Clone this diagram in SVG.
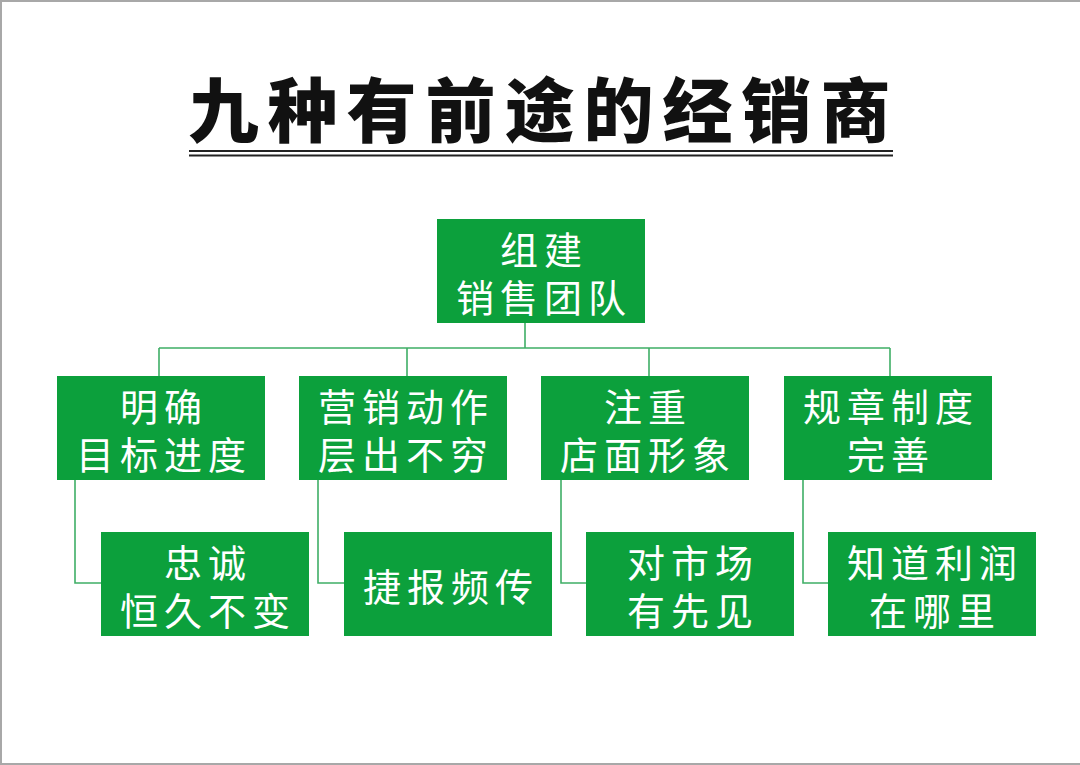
<svg xmlns="http://www.w3.org/2000/svg" width="1080" height="765" viewBox="0 0 1080 765">
<style>
.box{fill:#0ca03c}
.t{fill:#ffffff;font-family:"Noto Sans CJK SC","Noto Sans",sans-serif;font-size:38px;letter-spacing:6px;text-anchor:middle}
.c{fill:none;stroke:#3fae66;stroke-width:1.6}
.title{fill:#111;font-family:"Noto Sans CJK SC",sans-serif;font-weight:900;font-size:70px;letter-spacing:9px;text-anchor:middle}
</style>
<rect x="0" y="0" width="1080" height="765" fill="#ffffff"/>
<path d="M1 0V765M0 1H1080M0 764H1080" stroke="#a8a8a8" stroke-width="2" fill="none"/>
<g id="title">
<text class="title" x="544" y="137">九种有前途的经销商</text>
<rect x="189" y="150" width="704" height="2" fill="#222"/>
<rect x="189" y="154.5" width="704" height="2" fill="#222"/>
</g>
<g id="connectors">
<path class="c" d="M525 323V348M159 348H890M159 348V376M407 348V376M649 348V376M890 348V376"/>
<path class="c" d="M75 480V583H101M318 480V583H344M561 480V583H586M803 480V583H828"/>
</g>
<g id="root">
<rect class="box" x="437" y="219" width="208" height="104"/>
<text class="t" x="544" y="264">组建<tspan x="544" dy="48">销售团队</tspan></text>
</g>
<g id="n1">
<rect class="box" x="57" y="376" width="208" height="104"/>
<text class="t" x="164" y="421">明确<tspan x="164" dy="48">目标进度</tspan></text>
</g>
<g id="n2">
<rect class="box" x="299" y="376" width="208" height="104"/>
<text class="t" x="406" y="421">营销动作<tspan x="406" dy="48">层出不穷</tspan></text>
</g>
<g id="n3">
<rect class="box" x="541" y="376" width="208" height="104"/>
<text class="t" x="648" y="421">注重<tspan x="648" dy="48">店面形象</tspan></text>
</g>
<g id="n4">
<rect class="box" x="784" y="376" width="208" height="104"/>
<text class="t" x="891" y="421">规章制度<tspan x="891" dy="48">完善</tspan></text>
</g>
<g id="m1">
<rect class="box" x="101" y="532" width="208" height="104"/>
<text class="t" x="208" y="577">忠诚<tspan x="208" dy="48">恒久不变</tspan></text>
</g>
<g id="m2">
<rect class="box" x="344" y="532" width="208" height="104"/>
<text class="t" x="451" y="601">捷报频传</text>
</g>
<g id="m3">
<rect class="box" x="586" y="532" width="208" height="104"/>
<text class="t" x="693" y="577">对市场<tspan x="693" dy="48">有先见</tspan></text>
</g>
<g id="m4">
<rect class="box" x="828" y="532" width="208" height="104"/>
<text class="t" x="935" y="577">知道利润<tspan x="935" dy="48">在哪里</tspan></text>
</g>
</svg>
